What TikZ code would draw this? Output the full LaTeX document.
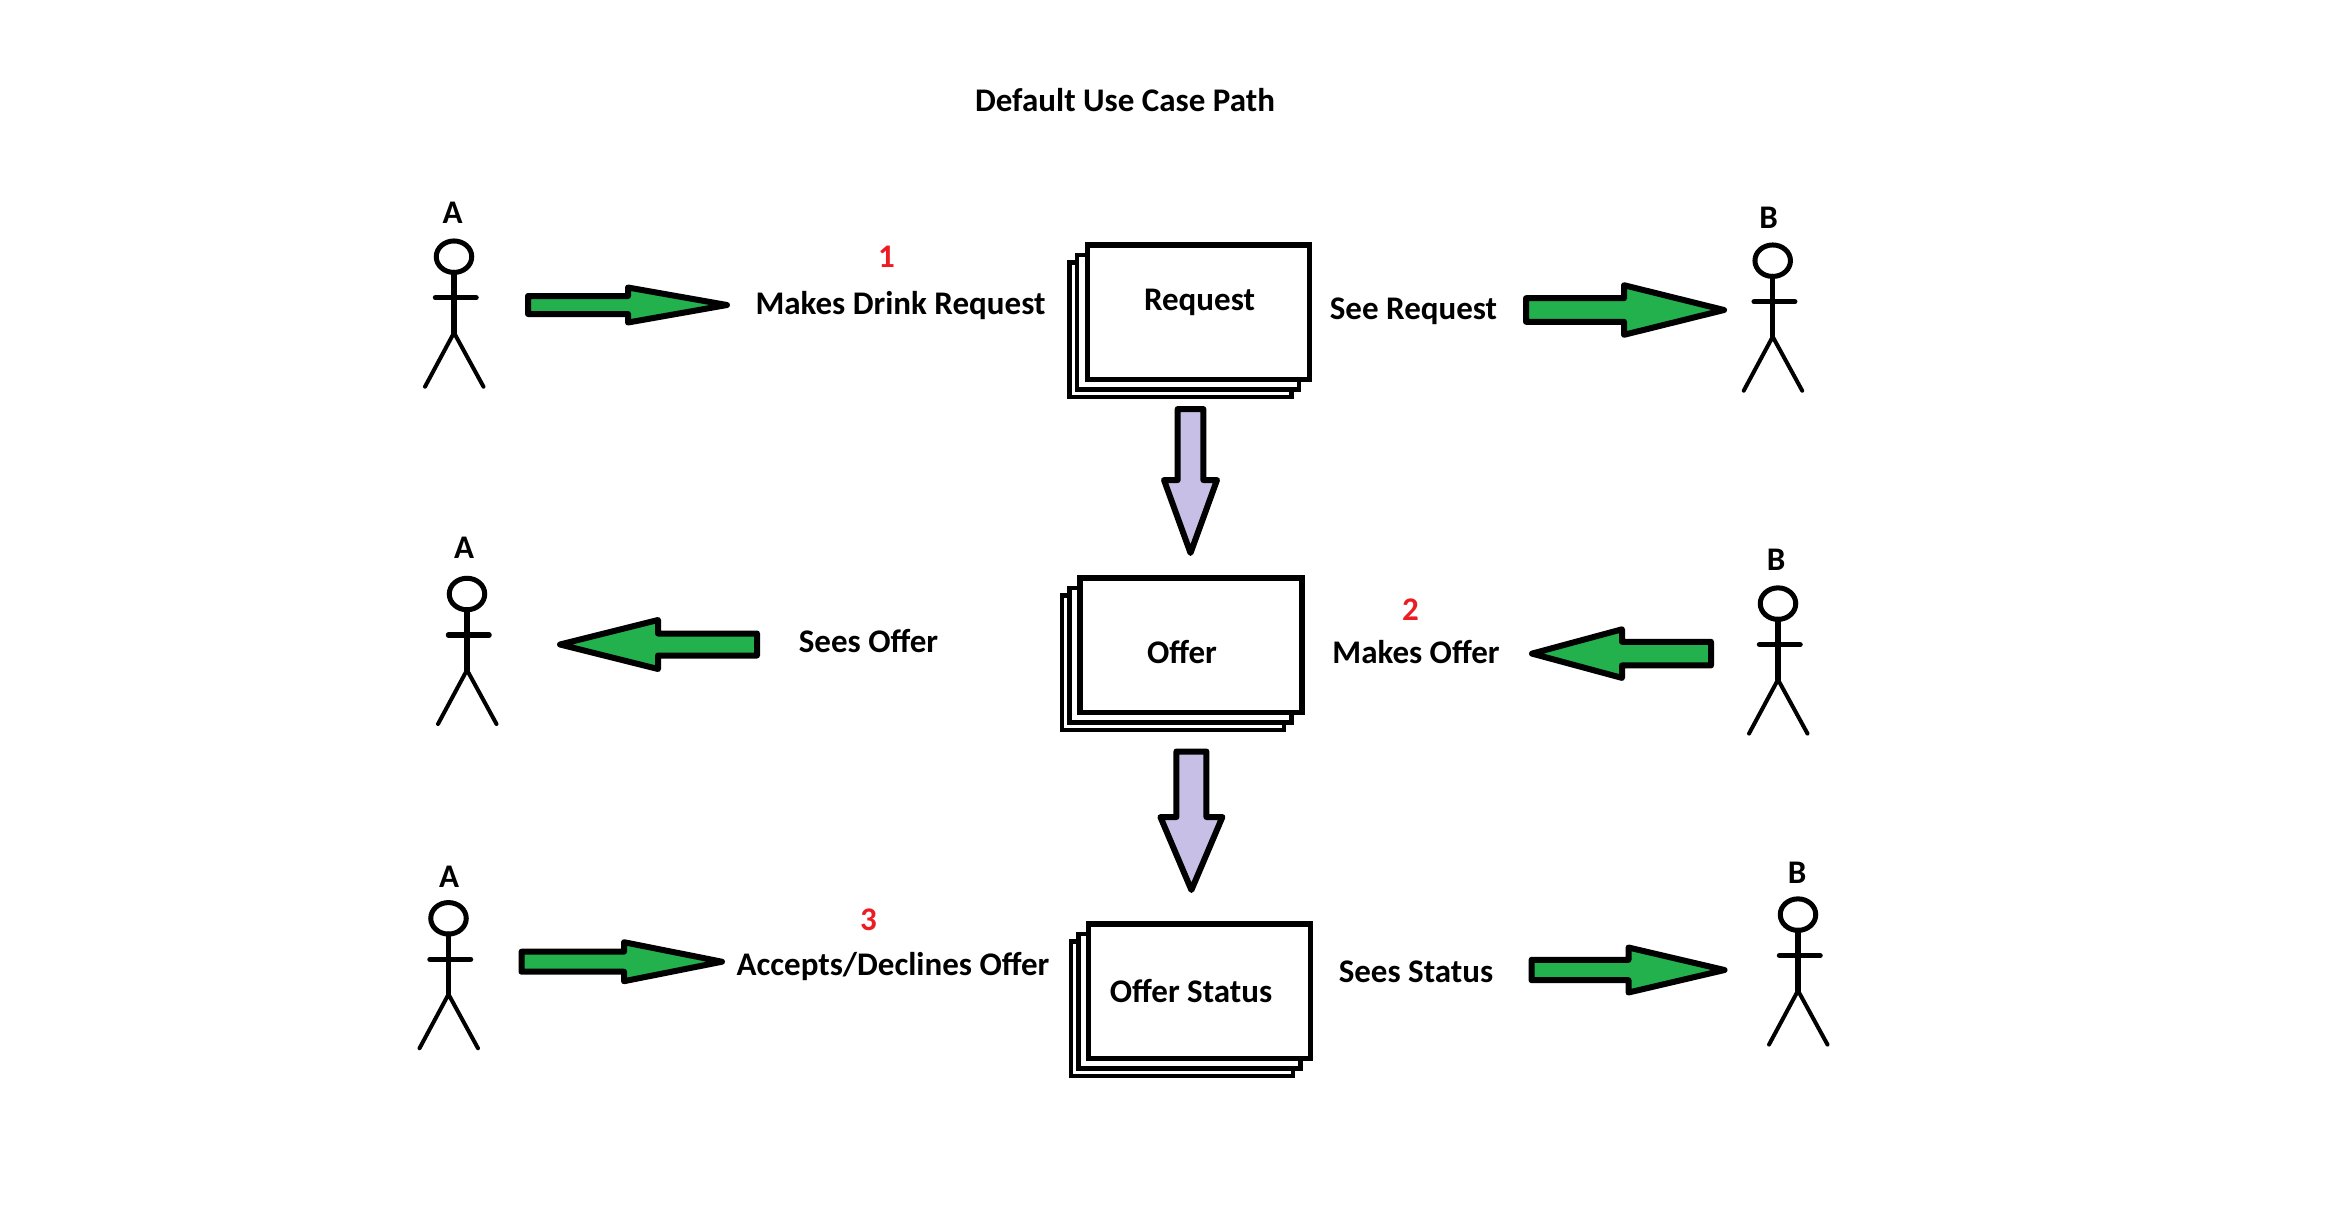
\documentclass[tikz,border=0pt]{standalone}
\usepackage{fontspec}
\setmainfont{Carlito}
\usetikzlibrary{positioning,calc,shapes.geometric}
\definecolor{paintgreen}{HTML}{22B14C}
\definecolor{paintlilac}{HTML}{C8BFE7}
\definecolor{paintred}{HTML}{ED1C24}
\tikzset{
  txt/.style={inner sep=0pt, font=\fontsize{33}{38}\selectfont\bfseries},
  num/.style={txt, text=paintred},
  sheet/.style={rectangle, draw, fill=white, line width=4.5pt, inner sep=0pt, outer sep=0pt,
                minimum width=222pt, minimum height=134.5pt},
  topsheet/.style={sheet, line width=5.5pt},
  head/.style={ellipse, draw, line width=5pt, inner sep=0pt, outer sep=0pt,
               minimum width=35.5pt, minimum height=31.5pt},
  body/.style={line width=5.5pt, line cap=round},
  leg/.style={line width=4pt, line cap=round, line join=round},
  actor/.pic={
    \node[head] (-head) at (0,0) {};
    \coordinate (-hip) at (0,76);
    \coordinate (-lhand) at (-18.5,41);
    \coordinate (-rhand) at (22,41);
    \coordinate (-lfoot) at (-29,130);
    \coordinate (-rfoot) at (29.5,130);
    \draw[body] (-head.south) -- (-hip);
    \draw[body] (-lhand) -- (-rhand);
    \draw[leg] (-lfoot) -- (-hip) -- (-rfoot);
  },
  blockarrow/.style n args={3}{draw=black, line width=6pt, line join=round,
    to path={
      ($(\tikztostart)!#1!90:(\tikztotarget)$)
      -- ($(\tikztotarget)!#3!(\tikztostart)!#1!90:(\tikztotarget)$)
      -- ($(\tikztotarget)!#3!(\tikztostart)!#2!90:(\tikztotarget)$)
      -- (\tikztotarget)
      -- ($(\tikztotarget)!#3!(\tikztostart)!#2!-90:(\tikztotarget)$)
      -- ($(\tikztotarget)!#3!(\tikztostart)!#1!-90:(\tikztotarget)$)
      -- ($(\tikztostart)!#1!-90:(\tikztotarget)$)
      -- cycle}},
}
\begin{document}
\begin{tikzpicture}[x=1pt,y=-1pt]
  \useasboundingbox (0,0) rectangle (2340,1208);

  \node[txt] (title) at (1125,100) {Default Use Case Path};

  % first row
  \pic (actA1) at (454,256.7) {actor};
  \node[txt] (labA1) at (452.5,213) {A};
  \node[num] (num1) at (886.5,257) {1};
  \node[txt] (makesreq) at (900.5,305.5) {Makes Drink Request};
  \node[sheet] (req3) at (1180.5,329.5) {};
  \node[sheet] (req2) at (1188,322) {};
  \node[topsheet] (req1) at (1198.5,312) {};
  \node[txt] (reqtxt) at (1199.5,302) {Request};
  \node[txt] (seereq) at (1413.5,311.5) {See Request};
  \pic (actB1) at (1772.7,260.7) {actor};
  \node[txt] (labB1) at (1768.5,218) {B};

  % second row
  \pic (actA2) at (467,594) {actor};
  \node[txt] (labA2) at (464,548) {A};
  \node[txt] (seesoff) at (868.5,641) {Sees Offer};
  \node[sheet] (off3) at (1173,662.5) {};
  \node[sheet] (off2) at (1180.5,655) {};
  \node[topsheet] (off1) at (1191,645) {};
  \node[txt] (offtxt) at (1182,652) {Offer};
  \node[num] (num2) at (1410.5,609.5) {2};
  \node[txt] (makesoff) at (1416,652) {Makes Offer};
  \pic (actB2) at (1778,603.6) {actor};
  \node[txt] (labB2) at (1776,559.5) {B};

  % third row
  \pic (actA3) at (448.5,918.3) {actor};
  \node[txt] (labA3) at (449,877) {A};
  \node[num] (num3) at (868.5,919.5) {3};
  \node[txt] (accepts) at (893,966) {Accepts/Declines Offer};
  \node[sheet] (sta3) at (1182,1008.5) {};
  \node[sheet] (sta2) at (1189.5,1001) {};
  \node[topsheet] (sta1) at (1199.7,991.2) {};
  \node[txt] (statxt) at (1191,991) {Offer Status};
  \node[txt] (seessta) at (1416,972) {Sees Status};
  \pic (actB3) at (1798,914.6) {actor};
  \node[txt] (labB3) at (1797,873) {B};

  % ends of the block arrows
  \coordinate (g1a) at (528,305);      \coordinate (g1b) at (727,305);
  \coordinate (g2a) at (1526,310);     \coordinate (g2b) at (1724,310);
  \coordinate (g3a) at (757,644.5);    \coordinate (g3b) at (560,644.5);
  \coordinate (g4a) at (1711,653.6);   \coordinate (g4b) at (1532,653.6);
  \coordinate (g5a) at (521.5,961.7);  \coordinate (g5b) at (722,961.7);
  \coordinate (g6a) at (1531.5,970);   \coordinate (g6b) at (1724.5,970);
  \coordinate (p1a) at (1190.5,409);   \coordinate (p1b) at (1190.5,553);
  \coordinate (p2a) at (1191.4,751.5); \coordinate (p2b) at (1191.4,890);

  \draw[blockarrow={9pt}{17.5pt}{99pt}, fill=paintgreen] (g1a) to (g1b);
  \draw[blockarrow={11.8pt}{24.8pt}{100pt}, fill=paintgreen] (g2a) to (g2b);
  \draw[blockarrow={11pt}{24.5pt}{98pt}, fill=paintgreen] (g3a) to (g3b);
  \draw[blockarrow={11.8pt}{24.3pt}{90pt}, fill=paintgreen] (g4a) to (g4b);
  \draw[blockarrow={10pt}{19.5pt}{98pt}, fill=paintgreen] (g5a) to (g5b);
  \draw[blockarrow={10.2pt}{22.5pt}{96pt}, fill=paintgreen] (g6a) to (g6b);
  \draw[blockarrow={12.8pt}{26.5pt}{73pt}, fill=paintlilac] (p1a) to (p1b);
  \draw[blockarrow={15pt}{31pt}{73pt}, fill=paintlilac] (p2a) to (p2b);
\end{tikzpicture}
\end{document}
